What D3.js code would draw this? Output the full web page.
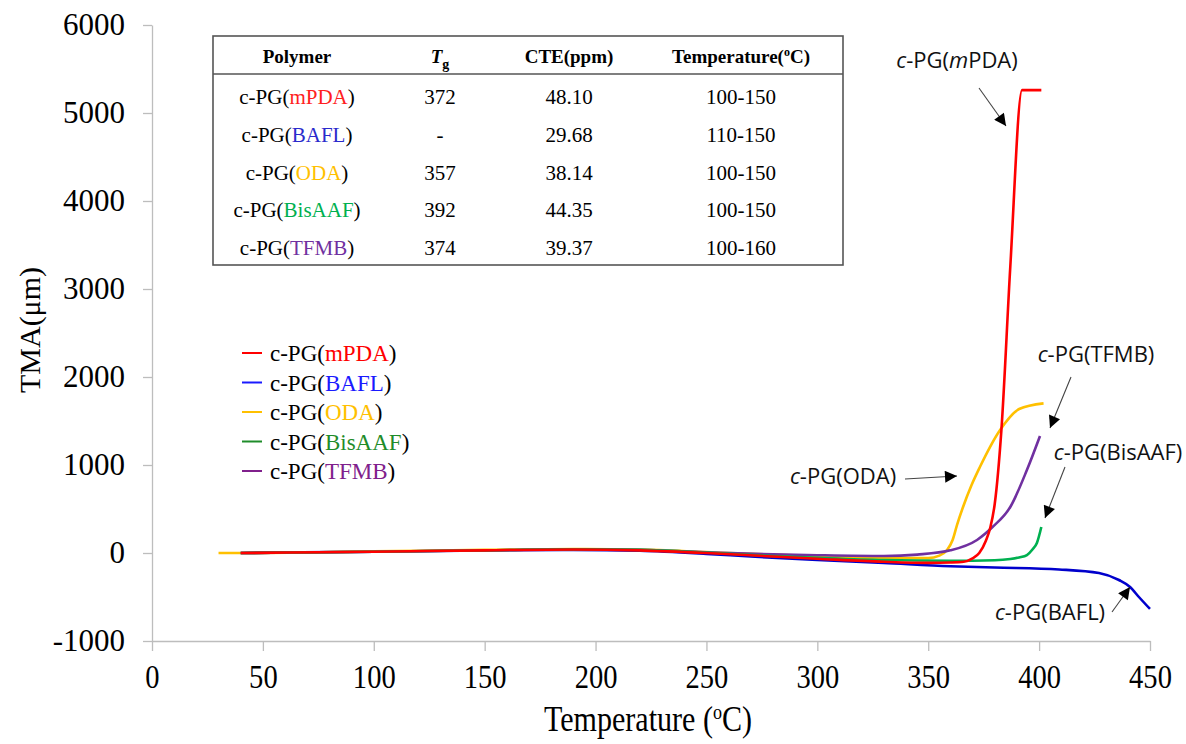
<!DOCTYPE html>
<html>
<head>
<meta charset="utf-8">
<script src="https://cdn.jsdelivr.net/npm/d3@7"></script>
<style>
body { margin: 0; background: #fff; }
svg { font-family: "Liberation Serif", "Times New Roman", serif; }
</style>
</head>
<body>
<svg width="1186" height="744"></svg>
<script>
// data: [temperature (C), TMA (um)]
var mPDA = [[40,0],[100,15],[150,30],[190,40],[220,30],[250,0],[280,-40],[300,-65],[330,-100],[350,-112],[360,-108],[366,-100],[370,-60],[373,0],[376,140],[378,290],[380,560],[383,1400],[387,3250],[392.3,5260],[401,5260]];
var BAFL = [[40,0],[100,15],[150,28],[190,35],[220,25],[250,-10],[270,-40],[300,-80],[330,-114],[360,-150],[380,-165],[409,-187],[427,-227],[436,-307],[441,-386],[445,-500],[450,-636]];
var ODA = [[30,0],[40,0],[100,18],[150,35],[190,45],[220,38],[250,10],[270,-10],[300,-35],[330,-57],[350,-58],[355,-30],[358.5,34],[361,148],[363,320],[365.7,523],[369.5,770],[373.3,977],[382.4,1398],[391,1636],[402,1700]];
var BisAAF = [[40,0],[100,15],[150,30],[190,42],[220,35],[250,5],[280,-35],[300,-55],[330,-80],[360,-88],[380,-82],[387,-68],[391,-50],[394.5,-23],[397,40],[399,114],[401,296]];
var TFMB = [[40,0],[100,15],[150,30],[190,42],[220,35],[250,8],[280,-15],[300,-25],[330,-34],[345,-18],[360,30],[372,148],[379,295],[387,523],[394.5,943],[400.4,1330]];

var seriesNames = ['mPDA', 'BAFL', 'ODA', 'BisAAF', 'TFMB'];
var seriesData = [mPDA, BAFL, ODA, BisAAF, TFMB];
var lineColors = ['#ff0000', '#0000cc', '#ffc000', '#00b050', '#7030a0'];
var legendColors = ['#ff0000', '#1a1aff', '#ffc000', '#1f8c2a', '#80208c'];
var tableColors = ['#ff2020', '#2a2acc', '#ffc000', '#00b050', '#7030a0'];

var xTicks = [0, 50, 100, 150, 200, 250, 300, 350, 400, 450];
var yTicks = [-1000, 0, 1000, 2000, 3000, 4000, 5000, 6000];

// table contents
var tableTg = ['372', '-', '357', '392', '374'];
var tableCTE = ['48.10', '29.68', '38.14', '44.35', '39.37'];
var tableRange = ['100-150', '110-150', '100-150', '100-150', '100-160'];

var svg = d3.select('svg');

var x = d3.scaleLinear().domain([0, 450]).range([152, 1150]);
var y = d3.scaleLinear().domain([-1000, 6000]).range([641, 25]);

var plain = function (d) { return String(d); };

// axes
var yAxis = svg.append('g')
    .attr('transform', 'translate(' + x(0) + ',0)')
    .call(d3.axisLeft(y).tickValues(yTicks).tickFormat(plain).tickSize(9).tickSizeOuter(0).tickPadding(18));
var xAxis = svg.append('g')
    .attr('transform', 'translate(0,' + y(-1000) + ')')
    .call(d3.axisBottom(x).tickValues(xTicks).tickFormat(plain).tickSize(10).tickSizeOuter(0).tickPadding(13));

[xAxis, yAxis].forEach(function (g) {
    g.attr('font-family', '"Liberation Serif", serif');
    g.selectAll('path, line').attr('stroke', '#bdbdbd').attr('stroke-width', 1.3);
    g.selectAll('text').attr('fill', '#000');
});
yAxis.attr('font-size', 31);
xAxis.attr('font-size', 34);
// x tick labels look narrow and tall in the original
xAxis.selectAll('text').attr('transform', 'scale(0.84,1)');

// axis titles
var xTitle = svg.append('text')
    .attr('transform', 'translate(648,731) scale(0.86,1)')
    .attr('text-anchor', 'middle')
    .style('font-size', '35px');
xTitle.append('tspan').text('Temperature (');
xTitle.append('tspan').attr('dy', -12).style('font-size', '21px').text('o');
xTitle.append('tspan').attr('dy', 12).text('C)');

svg.append('text')
    .attr('transform', 'translate(40,330) rotate(-90)')
    .attr('text-anchor', 'middle')
    .style('font-size', '30px')
    .text('TMA(\u03bcm)');

// curves
var line = d3.line()
    .x(function (d) { return x(d[0]); })
    .y(function (d) { return y(d[1]); })
    .curve(d3.curveMonotoneX);

// blue first so the others sit on top as in the original
var drawOrder = [1, 2, 4, 3, 0];
drawOrder.forEach(function (i) {
    svg.append('path')
        .datum(seriesData[i])
        .attr('d', line)
        .attr('fill', 'none')
        .attr('stroke', lineColors[i])
        .attr('stroke-width', 2.6)
        .attr('stroke-linejoin', 'round');
});

// legend
var legY = d3.scalePoint().domain(seriesNames).range([353, 471]);
var legend = svg.append('g');
seriesNames.forEach(function (name, i) {
    var g = legend.append('g').attr('transform', 'translate(0,' + legY(name) + ')');
    g.append('line').attr('x1', 242).attr('x2', 262).attr('y1', 0).attr('y2', 0)
        .attr('stroke', legendColors[i]).attr('stroke-width', 2);
    var t = g.append('text').attr('x', 270).attr('y', 8).style('font-size', '23px').attr('fill', '#000');
    t.append('tspan').text('c-PG(');
    t.append('tspan').attr('fill', legendColors[i]).text(name);
    t.append('tspan').text(')');
});

// table
var tbl = svg.append('g');
tbl.append('rect').attr('x', 213).attr('y', 36).attr('width', 630).attr('height', 229)
    .attr('fill', '#fff').attr('stroke', '#555').attr('stroke-width', 1.6);
tbl.append('line').attr('x1', 213).attr('x2', 843).attr('y1', 74).attr('y2', 74)
    .attr('stroke', '#555').attr('stroke-width', 1.4);

var colX = [297, 440, 569, 741];
var hdr = tbl.append('g').style('font-weight', 'bold').style('font-size', '19px');
hdr.append('text').attr('x', colX[0]).attr('y', 63).attr('text-anchor', 'middle').text('Polymer');
var tg = hdr.append('text').attr('x', colX[1]).attr('y', 63).attr('text-anchor', 'middle');
tg.append('tspan').style('font-style', 'italic').text('T');
tg.append('tspan').attr('dy', 6).style('font-size', '14px').text('g');
hdr.append('text').attr('x', colX[2]).attr('y', 63).attr('text-anchor', 'middle').text('CTE(ppm)');
var th = hdr.append('text').attr('x', colX[3]).attr('y', 63).attr('text-anchor', 'middle');
th.append('tspan').text('Temperature(');
th.append('tspan').attr('dy', -7).style('font-size', '12px').text('o');
th.append('tspan').attr('dy', 7).text('C)');

var rowY = d3.scalePoint().domain(seriesNames).range([97, 248]);
seriesNames.forEach(function (name, i) {
    var ry = rowY(name) + 7;
    var t = tbl.append('text').attr('x', colX[0]).attr('y', ry).attr('text-anchor', 'middle').style('font-size', '21px');
    t.append('tspan').text('c-PG(');
    t.append('tspan').attr('fill', tableColors[i]).text(name);
    t.append('tspan').text(')');
    tbl.append('text').attr('x', colX[1]).attr('y', ry).attr('text-anchor', 'middle').style('font-size', '21px').text(tableTg[i]);
    tbl.append('text').attr('x', colX[2]).attr('y', ry).attr('text-anchor', 'middle').style('font-size', '21px').text(tableCTE[i]);
    tbl.append('text').attr('x', colX[3]).attr('y', ry).attr('text-anchor', 'middle').style('font-size', '21px').text(tableRange[i]);
});

// annotations with arrows
svg.append('defs').append('marker')
    .attr('id', 'arrow').attr('viewBox', '0 0 10 10')
    .attr('refX', 10).attr('refY', 5)
    .attr('markerWidth', 14).attr('markerHeight', 12)
    .attr('markerUnits', 'userSpaceOnUse')
    .attr('orient', 'auto')
    .append('path').attr('d', 'M0,0L10,5L0,10Z').attr('fill', '#000');

var notes = [
    { name: 'mPDA', italicM: true, tx: 957, ty: 68, from: [979, 88], to: [1006, 126] },
    { name: 'TFMB', tx: 1096, ty: 362, from: [1071, 377], to: [1050, 428] },
    { name: 'BisAAF', tx: 1118, ty: 460, from: [1065, 467], to: [1045, 518] },
    { name: 'ODA', tx: 843, ty: 484, from: [905, 479], to: [957, 476] },
    { name: 'BAFL', tx: 1050, ty: 620, from: [1112, 612], to: [1130, 587] }
];
notes.forEach(function (n) {
    var t = svg.append('text').attr('x', n.tx).attr('y', n.ty).attr('text-anchor', 'middle')
        .style('font-family', '"Open Sans", "Noto Sans", sans-serif').style('font-size', '22px').attr('fill', '#111');
    t.append('tspan').style('font-style', 'italic').text('c');
    if (n.italicM) {
        t.append('tspan').text('-PG(');
        t.append('tspan').style('font-style', 'italic').text('m');
        t.append('tspan').text('PDA)');
    } else {
        t.append('tspan').text('-PG(' + n.name + ')');
    }
    svg.append('line')
        .attr('x1', n.from[0]).attr('y1', n.from[1])
        .attr('x2', n.to[0]).attr('y2', n.to[1])
        .attr('stroke', '#444').attr('stroke-width', 1.1)
        .attr('marker-end', 'url(#arrow)');
});
</script>
</body>
</html>
